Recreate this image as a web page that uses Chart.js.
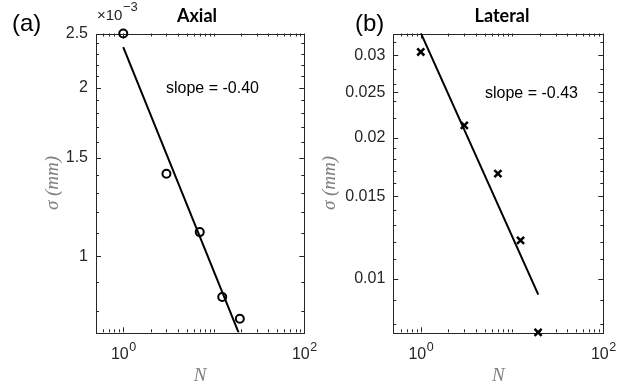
<!DOCTYPE html>
<html lang="en">
<head>
<meta charset="UTF-8">
<title>Sigma vs N</title>
<script src="https://cdn.jsdelivr.net/npm/chart.js"></script>
<style>
    body { margin: 0; background: #fff; }
    #wrap { position: relative; width: 638px; height: 388px; }
    canvas { position: absolute; top: 0; }
    #axial { left: 0; }
    #lateral { left: 319px; }
</style>
</head>
<body>
<div id="wrap">
    <canvas id="axial" width="319" height="388"></canvas>
    <canvas id="lateral" width="319" height="388"></canvas>
</div>
<script>
    // measured points
    const nAxial = [1, 3, 7, 12.4, 19.4];
    const sigmaAxial = [2.5e-3, 1.405e-3, 1.105e-3, 0.846e-3, 0.774e-3];
    const nLateral = [1, 3, 7, 12.4, 19.3];
    const sigmaLateral = [0.0305, 0.02126, 0.01676, 0.01207, 0.00768];

    // fitted power-law lines (end points)
    const fitAxialN = [1, 19.4];
    const fitAxialSigma = [2.365e-3, 0.722e-3];
    const fitLateralN = [1, 19.4];
    const fitLateralSigma = [0.0335, 0.00924];

    // ticks
    const xTickValues = [1, 100];
    const xTickExps = ['0', '2'];
    const xMinorTicks = [0.6, 0.7, 0.8, 0.9, 2, 3, 4, 5, 6, 7, 8, 9, 10, 20, 30, 40, 50, 60, 70, 80, 90];
    const axialYTicks = [1e-3, 1.5e-3, 2e-3, 2.5e-3];
    const axialYLabels = ['1', '1.5', '2', '2.5'];
    const axialYMinor = [0.8e-3, 0.9e-3, 1.1e-3, 1.2e-3, 1.3e-3, 1.4e-3, 1.6e-3, 1.7e-3, 1.8e-3, 1.9e-3, 2.1e-3, 2.2e-3, 2.3e-3, 2.4e-3];
    const lateralYTicks = [0.01, 0.015, 0.02, 0.025, 0.03];
    const lateralYLabels = ['0.01', '0.015', '0.02', '0.025', '0.03'];
    const lateralYMinor = [0.008, 0.009, 0.011, 0.012, 0.013, 0.014, 0.016, 0.017, 0.018, 0.019, 0.022, 0.024, 0.026, 0.028, 0.032];

    const INK = '#262626';
    const SANS = '"Liberation Sans", Arial, sans-serif';

    function makePanel(id, p) {
        const plugin = {
            id: 'panel_' + id,
            beforeDatasetsDraw(chart) {
                const ctx = chart.ctx;
                const a = chart.chartArea;
                const xs = chart.scales.x, ys = chart.scales.y;
                ctx.save();
                ctx.strokeStyle = INK;
                ctx.lineWidth = 1;
                // inward ticks on all four sides
                const tickX = (vals, len) => vals.forEach(v => {
                    const px = Math.round(xs.getPixelForValue(v)) + 0.5;
                    ctx.beginPath();
                    ctx.moveTo(px, a.bottom); ctx.lineTo(px, a.bottom - len);
                    ctx.moveTo(px, a.top); ctx.lineTo(px, a.top + len);
                    ctx.stroke();
                });
                const tickY = (vals, len) => vals.forEach(v => {
                    const py = Math.round(ys.getPixelForValue(v)) + 0.5;
                    ctx.beginPath();
                    ctx.moveTo(a.left, py); ctx.lineTo(a.left + len, py);
                    ctx.moveTo(a.right, py); ctx.lineTo(a.right - len, py);
                    ctx.stroke();
                });
                tickX(xTickValues, 5);
                tickX(xMinorTicks, 3);
                tickY(p.yTicks, 5);
                tickY(p.yMinor, 3);
                ctx.strokeRect(Math.round(a.left) + 0.5, Math.round(a.top) + 0.5,
                    Math.round(a.right - a.left), Math.round(a.bottom - a.top));
                ctx.restore();
            },
            afterDraw(chart) {
                const ctx = chart.ctx;
                const a = chart.chartArea;
                const xs = chart.scales.x;
                ctx.save();
                ctx.textBaseline = 'alphabetic';
                // x tick labels 10^k
                xTickValues.forEach((v, i) => {
                    const px = xs.getPixelForValue(v);
                    ctx.font = '16px ' + SANS;
                    const w1 = ctx.measureText('10').width;
                    ctx.font = '12.5px ' + SANS;
                    const w2 = ctx.measureText(xTickExps[i]).width;
                    const x0 = px - (w1 + w2) / 2;
                    ctx.fillStyle = INK;
                    ctx.textAlign = 'left';
                    ctx.font = '16px ' + SANS;
                    ctx.fillText('10', x0, 359);
                    ctx.font = '12.5px ' + SANS;
                    ctx.fillText(xTickExps[i], x0 + w1 + 0.5, 351);
                });
                // axis titles
                ctx.fillStyle = '#808080';
                ctx.font = 'italic 19px "Liberation Serif", "Times New Roman", serif';
                ctx.textAlign = 'center';
                ctx.fillText('N', (a.left + a.right) / 2, 381);
                ctx.save();
                ctx.translate(p.yTitleX, 183);
                ctx.rotate(-Math.PI / 2);
                ctx.textBaseline = 'middle';
                ctx.fillText('\u03c3 (mm)', 0, 0);
                ctx.restore();
                // panel letter
                ctx.fillStyle = '#000';
                ctx.textAlign = 'left';
                ctx.font = '24px ' + SANS;
                ctx.fillText(p.letter, p.letterX, 31);
                // title
                ctx.textAlign = 'center';
                ctx.font = 'bold 18px Lato, "Open Sans", sans-serif';
                ctx.fillText(p.title, p.titleX, 22);
                // slope annotation
                ctx.textAlign = 'left';
                ctx.font = '16px ' + SANS;
                ctx.fillText(p.slope, p.slopeX, p.slopeY);
                // exponent marker
                if (p.exponent) {
                    ctx.fillStyle = INK;
                    ctx.font = '15px ' + SANS;
                    ctx.fillText('\u00d710', 97, 20);
                    const w = ctx.measureText('\u00d710').width;
                    ctx.font = '13px ' + SANS;
                    ctx.fillText(p.exponent, 97 + w + 0.5, 11);
                }
                ctx.restore();
            }
        };

        return new Chart(document.getElementById(id), {
            type: 'scatter',
            data: {
                datasets: [{
                    label: 'fit',
                    data: p.fitN.map((n, i) => ({ x: n, y: p.fitSigma[i] })),
                    showLine: true,
                    borderColor: '#000',
                    borderWidth: 2,
                    pointRadius: 0
                }, {
                    label: 'data',
                    data: p.n.map((n, i) => ({ x: n, y: p.sigma[i] })),
                    showLine: false,
                    pointStyle: p.pointStyle,
                    pointRadius: p.pointRadius,
                    pointBorderWidth: p.pointBorderWidth,
                    borderColor: '#000',
                    backgroundColor: 'rgba(0,0,0,0)',
                    clip: false
                }]
            },
            options: {
                responsive: false,
                animation: false,
                devicePixelRatio: 1,
                layout: { padding: { left: 0, right: p.padRight, top: 33.5, bottom: 0 } },
                plugins: { legend: { display: false }, tooltip: { enabled: false } },
                scales: {
                    x: {
                        type: 'logarithmic',
                        min: 0.5,
                        max: 100,
                        bounds: 'data',
                        grid: { display: false, drawTicks: false },
                        border: { display: false },
                        ticks: { display: false },
                        afterFit: s => { s.height = 55.7; }
                    },
                    y: {
                        type: 'logarithmic',
                        min: p.yMin,
                        max: p.yMax,
                        bounds: 'data',
                        grid: { display: false, drawTicks: false },
                        border: { display: false },
                        afterBuildTicks: s => { s.ticks = p.yTicks.map(v => ({ value: v })); },
                        afterFit: s => { s.width = p.yWidth; },
                        ticks: {
                            color: INK,
                            font: { family: SANS, size: 16 },
                            padding: 8,
                            autoSkip: false,
                            callback: (v, i) => p.yLabels[i]
                        }
                    }
                }
            },
            plugins: [plugin]
        });
    }

    makePanel('axial', {
        n: nAxial, sigma: sigmaAxial, fitN: fitAxialN, fitSigma: fitAxialSigma,
        yMin: 0.732e-3, yMax: 2.5e-3,
        yTicks: axialYTicks, yLabels: axialYLabels, yMinor: axialYMinor,
        pointStyle: 'circle', pointRadius: 4, pointBorderWidth: 2,
        yWidth: 96, padRight: 14.7,
        letter: '(a)', letterX: 12, title: 'Axial', titleX: 197,
        slope: 'slope = -0.40', slopeX: 166, slopeY: 93,
        yTitleX: 53, exponent: '\u22123'
    });

    makePanel('lateral', {
        n: nLateral, sigma: sigmaLateral, fitN: fitLateralN, fitSigma: fitLateralSigma,
        yMin: 0.00768, yMax: 0.0334,
        yTicks: lateralYTicks, yLabels: lateralYLabels, yMinor: lateralYMinor,
        pointStyle: 'crossRot', pointRadius: 5, pointBorderWidth: 2.5,
        yWidth: 74.3, padRight: 34.7,
        letter: '(b)', letterX: 36, title: 'Lateral', titleX: 183,
        slope: 'slope = -0.43', slopeX: 166, slopeY: 98,
        yTitleX: 11
    });
</script>
</body>
</html>
